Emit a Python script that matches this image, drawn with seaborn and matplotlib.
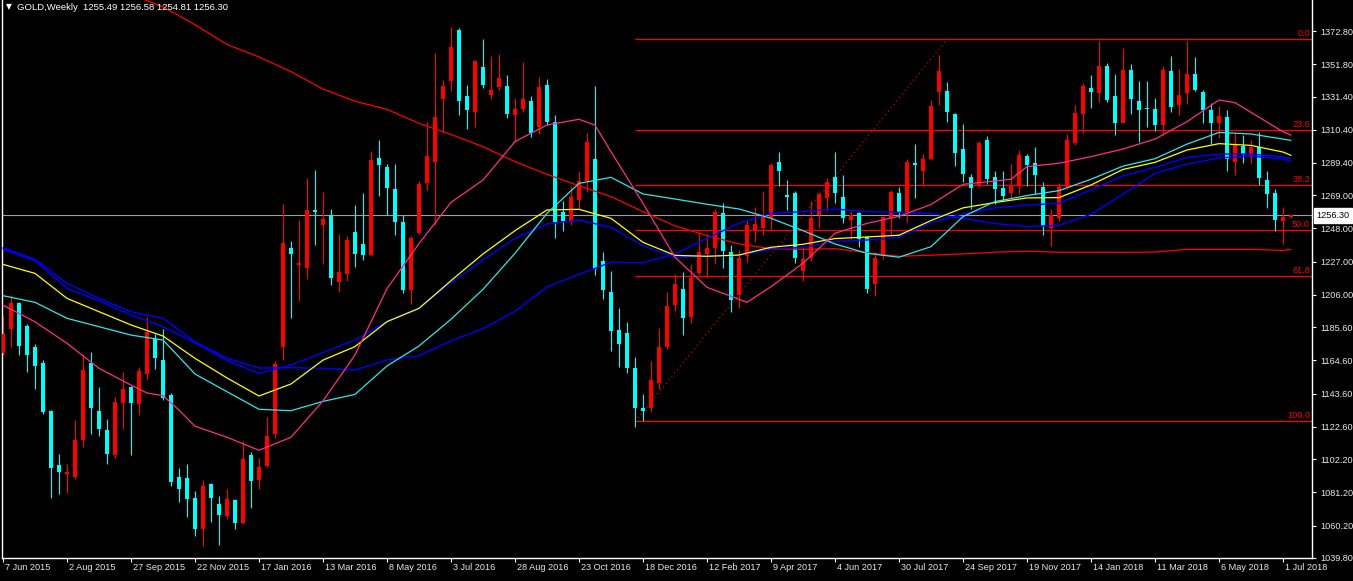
import matplotlib
matplotlib.use("Agg")
import matplotlib.pyplot as plt
import matplotlib.transforms as mtransforms
import numpy as np
import pandas as pd
import seaborn as sns

# Weekly GOLD candles, week 0 = 7 Jun 2015
opens = [1169.5, 1184.2, 1201.0, 1186.6, 1173.0, 1163.2, 1132.8, 1098.2, 1093.1, 1091.2,
         1114.1, 1163.2, 1132.8, 1120.4, 1104.8, 1137.5, 1147.8, 1136.8, 1155.9, 1178.4,
         1164.8, 1142.6, 1090.7, 1090.0, 1077.7, 1058.0, 1086.5, 1073.7, 1066.0, 1076.5,
         1062.0, 1104.5, 1089.3, 1097.8, 1118.1, 1173.0, 1235.6, 1225.0, 1222.8, 1259.5,
         1250.1, 1256.4, 1213.9, 1219.0, 1245.9, 1238.0, 1231.4, 1292.7, 1286.8, 1273.0,
         1252.0, 1208.8, 1245.4, 1277.0, 1289.8, 1329.6, 1341.3, 1373.3, 1331.7, 1321.4,
         1349.9, 1332.4, 1337.3, 1337.8, 1319.8, 1323.7, 1328.4, 1312.0, 1338.5, 1315.6,
         1258.3, 1251.8, 1266.0, 1277.7, 1292.2, 1227.5, 1208.1, 1183.5, 1181.7, 1159.5,
         1134.5, 1134.5, 1150.1, 1173.0, 1199.9, 1209.9, 1192.2, 1219.7, 1231.9, 1235.4,
         1257.8, 1233.3, 1206.2, 1230.3, 1246.6, 1248.5, 1254.8, 1289.8, 1269.3, 1270.5,
         1221.4, 1229.6, 1256.7, 1267.0, 1280.5, 1268.1, 1253.6, 1257.8, 1242.4, 1212.7,
         1230.3, 1254.8, 1270.7, 1258.3, 1289.4, 1284.0, 1292.2, 1334.2, 1334.7, 1320.2,
         1298.5, 1280.5, 1275.4, 1303.9, 1280.5, 1273.5, 1270.7, 1275.4, 1294.1, 1289.4,
         1274.2, 1248.3, 1254.8, 1274.2, 1302.2, 1320.2, 1336.6, 1333.8, 1350.6, 1331.9,
         1314.9, 1348.3, 1328.4, 1323.9, 1323.7, 1313.2, 1347.6, 1326.1, 1333.8, 1345.9,
         1334.2, 1323.0, 1314.4, 1318.4, 1290.3, 1299.9, 1293.4, 1299.2, 1278.6, 1270.5,
         1252.5, 1255.49]
highs = [1192.9, 1206.2, 1201.5, 1187.7, 1174.9, 1165.1, 1133.3, 1105.2, 1099.4, 1126.7,
         1168.8, 1170.2, 1148.0, 1127.4, 1141.5, 1157.1, 1148.5, 1160.2, 1192.2, 1181.2,
         1184.2, 1143.8, 1096.6, 1098.9, 1081.9, 1089.3, 1087.0, 1079.1, 1083.0, 1077.2,
         1113.4, 1106.9, 1102.9, 1128.6, 1164.1, 1263.4, 1240.1, 1253.6, 1279.8, 1284.7,
         1271.2, 1260.2, 1244.3, 1243.1, 1263.0, 1270.5, 1296.9, 1303.9, 1288.7, 1288.7,
         1256.4, 1243.1, 1278.2, 1315.6, 1358.8, 1341.7, 1375.1, 1374.5, 1338.5, 1354.5,
         1367.7, 1357.1, 1358.1, 1344.8, 1330.3, 1353.0, 1331.9, 1343.6, 1342.2, 1319.5,
         1265.3, 1274.7, 1284.5, 1308.5, 1338.2, 1233.3, 1221.4, 1198.0, 1188.7, 1166.5,
         1143.3, 1164.1, 1185.2, 1207.6, 1219.3, 1220.4, 1225.6, 1245.0, 1243.8, 1260.2,
         1264.1, 1237.3, 1234.5, 1253.6, 1261.8, 1271.6, 1289.4, 1296.2, 1278.6, 1271.6,
         1236.1, 1265.3, 1270.7, 1280.0, 1296.2, 1281.7, 1258.8, 1258.3, 1243.1, 1233.1,
         1256.0, 1272.0, 1274.2, 1292.2, 1301.5, 1295.2, 1329.1, 1357.6, 1340.6, 1321.0,
         1313.9, 1282.4, 1303.2, 1306.7, 1284.0, 1284.5, 1288.7, 1297.6, 1295.2, 1299.7,
         1277.5, 1260.6, 1276.5, 1307.8, 1326.1, 1340.1, 1344.8, 1366.3, 1352.5, 1345.9,
         1361.8, 1351.8, 1341.3, 1341.3, 1330.3, 1350.6, 1356.9, 1348.7, 1366.3, 1356.4,
         1335.4, 1327.2, 1325.6, 1322.6, 1308.5, 1306.9, 1303.9, 1309.0, 1284.0, 1272.8,
         1261.8, 1256.58]
lows = [1168.0, 1173.0, 1168.3, 1157.1, 1146.8, 1130.9, 1077.7, 1080.0, 1080.7, 1089.6,
        1109.9, 1118.1, 1116.5, 1099.4, 1102.9, 1121.1, 1104.8, 1129.8, 1152.0, 1159.0,
        1139.8, 1085.4, 1074.9, 1065.5, 1053.4, 1047.3, 1062.7, 1048.0, 1064.3, 1058.0,
        1061.0, 1071.4, 1083.0, 1097.0, 1115.8, 1164.8, 1191.2, 1202.2, 1215.8, 1237.3,
        1225.6, 1212.0, 1208.1, 1215.1, 1223.7, 1227.9, 1230.3, 1268.8, 1256.4, 1243.6,
        1206.9, 1200.3, 1244.5, 1272.3, 1250.1, 1308.5, 1334.7, 1319.5, 1310.9, 1312.0,
        1336.6, 1330.0, 1335.4, 1317.9, 1302.7, 1321.4, 1305.7, 1307.8, 1313.2, 1241.9,
        1246.1, 1250.1, 1260.6, 1271.2, 1218.6, 1203.4, 1170.7, 1160.6, 1156.6, 1122.8,
        1126.3, 1132.1, 1146.6, 1171.8, 1195.7, 1180.5, 1188.2, 1218.6, 1216.9, 1225.6,
        1222.8, 1195.2, 1197.5, 1226.8, 1239.6, 1243.6, 1247.3, 1275.1, 1259.9, 1226.1,
        1214.6, 1227.2, 1248.3, 1259.0, 1264.1, 1251.3, 1241.2, 1236.1, 1206.9, 1205.0,
        1228.6, 1243.6, 1254.8, 1251.8, 1267.0, 1275.1, 1291.5, 1326.1, 1315.1, 1287.5,
        1277.5, 1260.6, 1274.5, 1276.3, 1263.4, 1265.3, 1266.5, 1270.0, 1275.1, 1270.0,
        1243.8, 1236.8, 1252.5, 1273.0, 1301.0, 1308.1, 1324.2, 1327.9, 1327.9, 1306.9,
        1314.4, 1320.2, 1302.7, 1312.0, 1309.7, 1306.9, 1321.4, 1319.5, 1326.8, 1334.7,
        1314.4, 1301.5, 1305.0, 1284.5, 1281.7, 1289.4, 1289.4, 1275.4, 1261.1, 1246.1,
        1238.0, 1254.81]
closes = [1181.2, 1201.0, 1173.5, 1168.3, 1161.3, 1132.1, 1096.4, 1094.0, 1094.3, 1114.1,
          1158.5, 1134.5, 1121.1, 1105.2, 1138.0, 1146.8, 1137.5, 1157.8, 1182.8, 1166.0,
          1140.8, 1087.7, 1083.0, 1077.2, 1058.0, 1085.4, 1077.7, 1066.7, 1076.7, 1062.0,
          1102.4, 1088.4, 1097.1, 1116.5, 1162.5, 1238.9, 1231.9, 1226.0, 1259.9, 1258.3,
          1254.1, 1216.9, 1220.4, 1240.8, 1232.1, 1231.4, 1291.0, 1288.2, 1273.5, 1251.8,
          1208.8, 1241.9, 1276.3, 1293.8, 1318.4, 1338.2, 1363.0, 1328.4, 1323.0, 1353.6,
          1338.5, 1335.4, 1342.9, 1320.2, 1323.7, 1330.0, 1308.5, 1337.3, 1315.1, 1251.8,
          1252.9, 1267.6, 1277.7, 1302.7, 1222.1, 1209.2, 1183.0, 1174.9, 1159.5, 1134.5,
          1132.8, 1152.4, 1173.0, 1198.7, 1212.7, 1191.2, 1216.9, 1233.3, 1235.6, 1258.3,
          1233.8, 1202.7, 1229.1, 1250.1, 1250.8, 1256.0, 1288.0, 1284.5, 1267.6, 1229.1,
          1228.6, 1254.8, 1269.5, 1277.5, 1270.7, 1254.3, 1256.4, 1241.5, 1209.7, 1229.1,
          1255.5, 1271.2, 1258.3, 1289.8, 1288.0, 1292.2, 1325.4, 1347.6, 1321.4, 1295.7,
          1282.4, 1273.5, 1302.2, 1279.3, 1272.8, 1268.8, 1275.4, 1294.5, 1288.2, 1282.1,
          1249.4, 1256.4, 1274.2, 1303.9, 1320.9, 1337.8, 1334.2, 1350.6, 1329.1, 1314.4,
          1348.3, 1329.6, 1322.6, 1323.5, 1313.2, 1348.3, 1324.9, 1332.6, 1345.5, 1335.4,
          1323.0, 1314.9, 1319.1, 1292.2, 1301.1, 1295.0, 1299.7, 1280.0, 1270.0, 1253.2,
          1255.3, 1256.30]

date_labels = ["7 Jun 2015", "2 Aug 2015", "27 Sep 2015", "22 Nov 2015", "17 Jan 2016",
               "13 Mar 2016", "8 May 2016", "3 Jul 2016", "28 Aug 2016", "23 Oct 2016",
               "18 Dec 2016", "12 Feb 2017", "9 Apr 2017", "4 Jun 2017", "30 Jul 2017",
               "24 Sep 2017", "19 Nov 2017", "14 Jan 2018", "11 Mar 2018", "6 May 2018",
               "1 Jul 2018"]
date_weeks = list(range(0, 161, 8))

# moving averages every 4 weeks
ma_weeks = list(range(0, 161, 4)) + [161]
ma_cyan = [1205.5, 1201.3, 1191.2, 1185.9, 1180.6, 1177.5, 1156.0, 1144.8, 1133.7, 1132.8,
           1138.7, 1143.1, 1161.1, 1173.7, 1190.6, 1209.5, 1232.3, 1257.6, 1276.5, 1280.3,
           1269.8, 1266.6, 1263.3, 1260.3, 1254.4, 1246.6, 1238.2, 1232.3, 1229.8, 1236.5,
           1255.5, 1265.0, 1268.8, 1271.9, 1279.1, 1287.4, 1292.1, 1301.3, 1308.7, 1307.7,
           1304.5, 1303.7]
ma_yellow = [1225.3, 1219.6, 1203.8, 1195.4, 1187.0, 1180.0, 1165.9, 1153.5, 1142.1, 1149.7,
             1164.8, 1173.3, 1189.1, 1197.5, 1215.0, 1231.9, 1246.6, 1259.7, 1260.1, 1254.4,
             1239.2, 1231.0, 1230.4, 1231.2, 1236.1, 1238.0, 1241.6, 1242.6, 1243.7, 1253.0,
             1261.0, 1264.4, 1267.3, 1267.5, 1275.5, 1285.3, 1289.8, 1297.6, 1301.6, 1300.5,
             1296.3, 1294.2]
ma_blue1 = [1235.0, 1227.6, 1210.1, 1202.3, 1193.3, 1185.9, 1175.8, 1164.5, 1156.4, 1161.7,
            1169.5, 1177.5, 1189.1, 1197.5, 1213.8, 1228.1, 1241.8, 1250.8, 1253.3, 1248.7,
            1237.1, 1229.8, 1230.4, 1231.0, 1234.8, 1236.1, 1239.9, 1240.7, 1242.4, 1251.7,
            1257.2, 1261.0, 1262.7, 1263.9, 1272.4, 1281.3, 1286.6, 1292.9, 1295.0, 1295.0,
            1293.3, 1292.3]
ma_blue2 = [1235.8, 1228.5, 1213.3, 1203.8, 1195.4, 1191.2, 1176.4, 1166.0, 1159.8, 1160.0,
            1159.6, 1158.5, 1164.8, 1167.6, 1177.0, 1184.7, 1195.7, 1211.0, 1219.0, 1226.6,
            1226.4, 1231.9, 1241.8, 1251.3, 1257.6, 1258.6, 1260.3, 1258.6, 1258.2, 1257.4,
            1254.4, 1251.1, 1249.2, 1250.0, 1257.0, 1269.7, 1282.8, 1288.7, 1292.5, 1293.8,
            1291.9, 1290.6]

pink_weeks = [0, 4, 8, 12, 16, 18, 20, 22, 24, 28, 32, 36, 40, 44, 48, 52, 56, 60, 64, 68,
              72, 74, 76, 80, 84, 88, 93, 96, 100, 104, 108, 112, 116, 120, 124, 126, 128,
              132, 136, 140, 144, 148, 152, 154, 156, 160, 161]
ma_pink = [1199.5, 1189.0, 1175.4, 1159.6, 1149.0, 1144.0, 1142.3, 1133.2, 1123.0, 1116.0,
           1107.8, 1116.0, 1139.0, 1168.0, 1210.0, 1238.4, 1264.5, 1278.6, 1302.9, 1313.4,
           1317.0, 1313.3, 1296.5, 1263.9, 1229.8, 1210.8, 1201.3, 1211.2, 1226.0, 1245.0,
           1251.2, 1255.7, 1263.1, 1275.9, 1278.0, 1279.1, 1287.1, 1289.2, 1293.4, 1298.2,
           1304.5, 1315.5, 1329.2, 1327.5, 1321.4, 1309.1, 1307.0]

red_ma_weeks = list(range(16, 161, 4)) + [161]
ma_red = [1396.0, 1388.0, 1376.8, 1364.3, 1356.4, 1347.1, 1336.1, 1328.4, 1323.3, 1314.4,
          1307.4, 1299.7, 1290.2, 1282.2, 1275.0, 1268.1, 1258.6, 1249.6, 1243.5, 1238.2,
          1235.2, 1234.8, 1235.2, 1232.7, 1230.4, 1231.1, 1231.9, 1233.0, 1233.6, 1233.0,
          1233.0, 1232.9, 1233.1, 1234.8, 1234.8, 1234.8, 1234.1, 1234.8]

price_ticks = [1372.80, 1351.80, 1331.40, 1310.40, 1289.40, 1269.00, 1248.00, 1227.00,
               1206.00, 1185.60, 1164.60, 1143.60, 1122.60, 1102.20, 1081.20, 1060.20, 1039.80]

fib_levels = [0.0, 23.6, 38.2, 50.0, 61.8, 100.0]
fib_low, fib_high = 1126.0, 1367.5
fib_low_week, fib_high_week = 79, 118
last_price = 1256.30

sns.set_theme(style="dark", rc={"axes.facecolor": "black", "figure.facecolor": "black"})
plt.rcParams["font.family"] = ["Liberation Sans", "DejaVu Sans"]

df = pd.DataFrame({"week": np.arange(len(opens)), "open": opens, "high": highs,
                   "low": lows, "close": closes})
df["color"] = np.where(df["close"] >= df["open"], "#FF0000", "#00FFFF")
df["body_low"] = df[["open", "close"]].min(axis=1)
df["body_h"] = (df["close"] - df["open"]).abs().clip(lower=0.7)

W, H = 1353, 581
fig = plt.figure(figsize=(W / 100, H / 100), dpi=100)
ax = fig.add_axes([2 / W, 23 / H, 1310 / W, 558 / H])
ax.set_facecolor("black")

# bid line
ax.axhline(last_price, color="#9a9ea4", lw=0.8, zorder=1)

# fibonacci retracement
rng = fib_high - fib_low
for lv in fib_levels:
    y = fib_high - rng * lv / 100.0
    ax.hlines(y, fib_low_week, 163.625, color="#FF0000", lw=0.9, zorder=1)
    ax.text(1.0, y, f"{lv:.1f}", color="#FF0000", fontsize=6.6, ha="right", va="bottom",
            transform=mtransforms.blended_transform_factory(ax.transAxes, ax.transData)
            + mtransforms.ScaledTranslation(-0.02, 0.01, fig.dpi_scale_trans), zorder=5)
ax.plot([fib_low_week, fib_high_week], [fib_low, fib_high], color="#FF0000",
        lw=0.8, ls=(0, (1, 3)), zorder=1)

# candles
ax.vlines(df["week"], df["low"], df["high"], colors=df["color"], lw=0.8, zorder=2)
ax.bar(df["week"], df["body_h"], bottom=df["body_low"], width=0.62,
       color=df["color"], linewidth=0, zorder=3)

# moving averages
sns.lineplot(x=red_ma_weeks, y=ma_red, color="#FF0000", lw=0.9, ax=ax, legend=False, zorder=4)
sns.lineplot(x=ma_weeks, y=ma_blue2, color="#0000FF", lw=1.0, ax=ax, legend=False, zorder=4)
sns.lineplot(x=ma_weeks, y=ma_blue1, color="#0000FF", lw=1.0, ax=ax, legend=False, zorder=4)
sns.lineplot(x=ma_weeks, y=ma_yellow, color="#FFFF00", lw=0.9, ax=ax, legend=False, zorder=4)
sns.lineplot(x=ma_weeks, y=ma_cyan, color="#33E6E6", lw=0.9, ax=ax, legend=False, zorder=4)
sns.lineplot(x=pink_weeks, y=ma_pink, color="#FF2E8B", lw=0.9, ax=ax, legend=False, zorder=4)

ax.set_xlim(-0.125, 163.625)
ax.set_ylim(1039.7, 1392.4)
ax.set_xlabel("")
ax.set_ylabel("")
ax.grid(False)

for s in ["left", "bottom", "right"]:
    ax.spines[s].set_visible(True)
    ax.spines[s].set_color("white")
    ax.spines[s].set_linewidth(1.0)
ax.spines["top"].set_visible(False)

ax.yaxis.tick_right()
ax.set_yticks(price_ticks)
ax.set_yticklabels([f"{v:.2f}" for v in price_ticks])
ax.tick_params(axis="y", which="both", right=True, left=False, length=3, width=0.8,
               color="white", labelcolor="#e8e8e8", labelsize=6.6, pad=3, direction="out")
ax.set_xticks(date_weeks)
ax.tick_params(axis="x", bottom=True, length=3, width=0.8, color="white",
               labelbottom=False, direction="out")

date_trans = mtransforms.blended_transform_factory(ax.transData, ax.transAxes) + \
    mtransforms.ScaledTranslation(0.02, -0.045, fig.dpi_scale_trans)
for wk, lab in zip(date_weeks, date_labels):
    ax.text(wk, 0, lab, color="#e8e8e8", fontsize=6.6, ha="left", va="top",
            transform=date_trans, clip_on=False)

# current price box
ax.text(1.0, last_price, "1256.30", color="black", fontsize=6.6, ha="left", va="center",
        transform=mtransforms.blended_transform_factory(ax.transAxes, ax.transData)
        + mtransforms.ScaledTranslation(0.045, 0, fig.dpi_scale_trans),
        bbox=dict(boxstyle="square,pad=0.3", fc="white", ec="white"), zorder=6, clip_on=False)

# header
fig.text(9 / W, 1 - 7 / H, "\u25bc", color="white", fontsize=5.5, ha="center", va="center",
         family=["DejaVu Sans"])
fig.text(17 / W, 1 - 7 / H, "GOLD,Weekly  1255.49 1256.58 1254.81 1256.30",
         color="white", fontsize=6.8, ha="left", va="center")

fig.savefig("out.png", dpi=100, facecolor="black")
